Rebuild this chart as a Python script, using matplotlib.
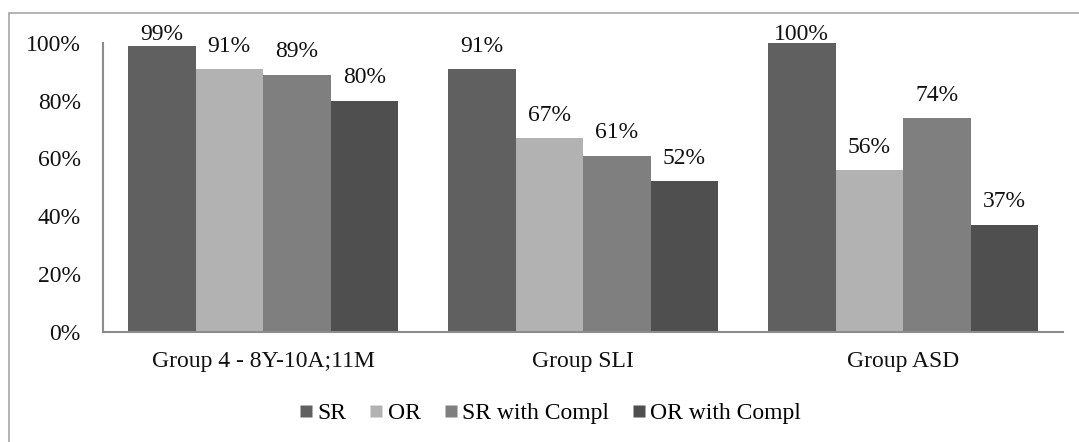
import matplotlib
matplotlib.use("Agg")
import matplotlib.pyplot as plt
from matplotlib.lines import Line2D
from matplotlib.patches import Rectangle
import numpy as np

plt.rcParams['font.family'] = ['Liberation Serif', 'DejaVu Serif']

groups = ["Group 4 - 8Y-10A;11M", "Group SLI", "Group ASD"]
series = ["SR", "OR", "SR with Compl", "OR with Compl"]
values = {
    "SR": [99, 91, 100],
    "OR": [91, 67, 56],
    "SR with Compl": [89, 61, 74],
    "OR with Compl": [80, 52, 37],
}
colors = {
    "SR": "#606060",
    "OR": "#b2b2b2",
    "SR with Compl": "#7f7f7f",
    "OR with Compl": "#4f4f4f",
}

fig = plt.figure(figsize=(10.79, 4.42), dpi=100)
ax = fig.add_axes([0.0955, 0.25, 0.8897, 0.6527])

x = np.arange(len(groups))
w = 0.211
fs = 17
label_gap = 0.06     # space between bar top and label baseline (axis units)
label_cap = 1.01     # labels never rise above this
for i, s in enumerate(series):
    offs = (i - 1.5) * w
    vals = np.array(values[s]) / 100.0
    ax.bar(x + offs, vals, width=w, color=colors[s], edgecolor='none', zorder=2)
    for xi, v in zip(x + offs, values[s]):
        ty = min(v / 100.0 + label_gap, label_cap)
        ax.text(xi, ty, f"{v}%", ha='center', va='baseline', fontsize=fs,
                color='#111111', clip_on=False)

ax.set_xlim(-0.5, 2.5)
ax.set_ylim(0, 1.0)
ax.set_yticks(np.arange(0, 1.01, 0.2))
ax.set_yticklabels([f"{int(round(t * 100))}%" for t in np.arange(0, 1.01, 0.2)])
ax.set_xticks(x)
ax.set_xticklabels(groups)
ax.tick_params(axis='both', length=0, labelsize=fs, colors='#111111')
ax.tick_params(axis='y', pad=16)
ax.tick_params(axis='x', pad=14)
for side in ('top', 'right'):
    ax.spines[side].set_visible(False)
for side in ('left', 'bottom'):
    ax.spines[side].set_color('#8c8c8c')
    ax.spines[side].set_linewidth(1.5)

handles = [Line2D([], [], marker='s', linestyle='none', markersize=8.5,
                  markerfacecolor=colors[s], markeredgecolor='none') for s in series]
fig.legend(handles, series, loc='center', bbox_to_anchor=(0.51, 0.064), ncol=4,
           frameon=False, fontsize=fs, handlelength=0.55, handletextpad=0.2,
           columnspacing=1.0, borderpad=0)

# chart frame
fig.add_artist(Rectangle((9 / 1079, -0.05), 1.2, 1 - 13 / 442 + 0.05, transform=fig.transFigure,
                         fill=False, edgecolor='#a6a6a6', linewidth=1.2))

fig.savefig("out.png", dpi=100)
